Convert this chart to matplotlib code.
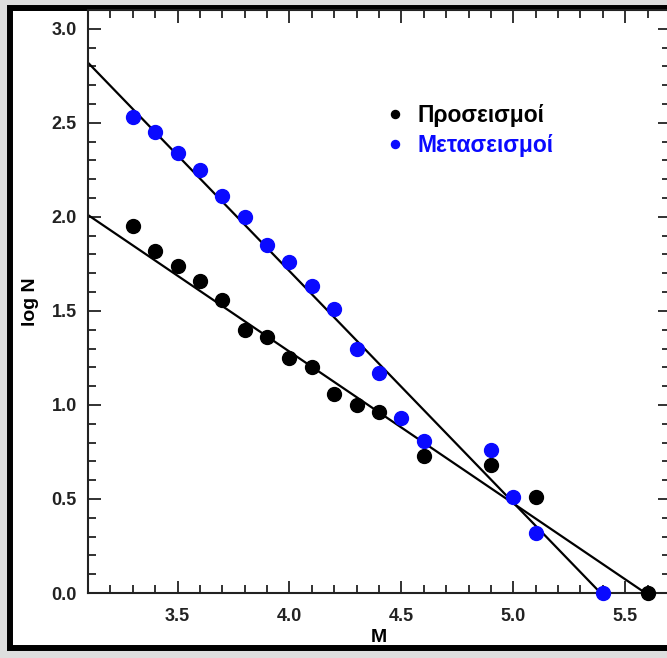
import matplotlib
matplotlib.use("Agg")
import matplotlib.pyplot as plt
from matplotlib.patches import Rectangle
from matplotlib.ticker import MultipleLocator, FormatStrFormatter

# foreshocks (Προσεισμοί)
M_fore = [3.3, 3.4, 3.5, 3.6, 3.7, 3.8, 3.9, 4.0, 4.1, 4.2, 4.3, 4.4, 4.6, 4.9, 5.1, 5.6]
logN_fore = [1.95, 1.82, 1.74, 1.66, 1.56, 1.40, 1.36, 1.25, 1.20, 1.06, 1.00, 0.96,
             0.73, 0.68, 0.51, 0.0]

# aftershocks (Μετασεισμοί)
M_after = [3.3, 3.4, 3.5, 3.6, 3.7, 3.8, 3.9, 4.0, 4.1, 4.2, 4.3, 4.4, 4.5, 4.6,
           4.9, 5.0, 5.1, 5.4]
logN_after = [2.53, 2.45, 2.34, 2.25, 2.11, 2.00, 1.85, 1.76, 1.63, 1.51, 1.30, 1.17,
              0.93, 0.81, 0.76, 0.51, 0.32, 0.0]

# fitted lines (end points)
fit_fore_M = [3.1, 5.59]
fit_fore_logN = [2.01, 0.0]
fit_after_M = [3.1, 5.39]
fit_after_logN = [2.82, 0.0]

labels = ["Προσεισμοί", "Μετασεισμοί"]
blue = "#0a0aff"

plt.rcParams['font.family'] = ['Liberation Sans', 'DejaVu Sans']
plt.rcParams['font.weight'] = 'bold'

W, H = 667, 658
fig = plt.figure(figsize=(W / 100, H / 100), dpi=100)
fig.patch.set_facecolor('#dedede')

# white panel with thick black frame
frame = Rectangle((10 / W, 10 / H), (675 - 10) / W, (650 - 10) / H,
                  transform=fig.transFigure, facecolor='white', edgecolor='black',
                  linewidth=4.3, zorder=-5)
fig.add_artist(frame)

ax = fig.add_axes([88 / W, (H - 593) / H, 582 / W, 583 / H])
ax.set_zorder(2)
ax.set_facecolor('none')

ax.plot(fit_after_M, fit_after_logN, color='black', lw=1.6, zorder=2)
ax.plot(fit_fore_M, fit_fore_logN, color='black', lw=1.6, zorder=2)
ax.plot(M_fore, logN_fore, 'o', color='black', ms=10, zorder=3, clip_on=False,
        label=labels[0])
ax.plot(M_after, logN_after, 'o', color=blue, ms=10, zorder=3, clip_on=False,
        label=labels[1])

ax.set_xlim(3.1, 5.7)
ax.set_ylim(0, 3.1)
ax.xaxis.set_major_locator(MultipleLocator(0.5))
ax.xaxis.set_minor_locator(MultipleLocator(0.1))
ax.yaxis.set_major_locator(MultipleLocator(0.5))
ax.yaxis.set_minor_locator(MultipleLocator(0.1))
ax.xaxis.set_major_formatter(FormatStrFormatter('%.1f'))
ax.yaxis.set_major_formatter(FormatStrFormatter('%.1f'))

ax.tick_params(which='both', direction='in', top=True, right=True, width=1.3,
               color='#222222')
ax.tick_params(which='major', length=9)
ax.tick_params(which='minor', length=5.5)
ax.tick_params(axis='x', which='major', pad=11, labelsize=13, labelcolor='#222222')
ax.tick_params(axis='y', which='major', pad=8, labelsize=13, labelcolor='#222222')
for s in ax.spines.values():
    s.set_linewidth(1.5)
    s.set_color('#222222')

ax.set_xlabel("M", fontsize=14, fontweight='bold', labelpad=3)
ax.set_ylabel("log N", fontsize=14, fontweight='bold', labelpad=9)

ax.legend(loc='upper left', bbox_to_anchor=(0.513, 0.838), frameon=False,
          borderpad=0, borderaxespad=0, handlelength=0.75, handletextpad=0.6,
          markerscale=0.58, labelspacing=0.3, labelcolor='markerfacecolor',
          prop={'size': 16.5, 'weight': 'bold'})

fig.savefig("out.png", dpi=100, facecolor=fig.get_facecolor())
